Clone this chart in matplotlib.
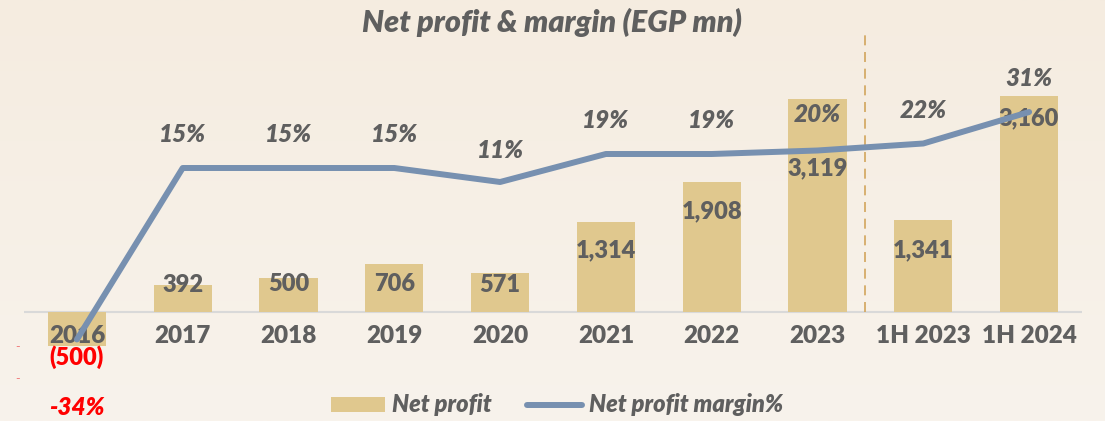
import numpy as np
import matplotlib.pyplot as plt
from matplotlib.patches import Patch
from matplotlib.lines import Line2D

plt.rcParams['font.family'] = ['Lato', 'DejaVu Sans']

# Data
categories = ["2016", "2017", "2018", "2019", "2020", "2021", "2022", "2023", "1H 2023", "1H 2024"]
net_profit = [-500, 392, 500, 706, 571, 1314, 1908, 3119, 1341, 3160]
margin = [-34, 15, 15, 15, 11, 19, 19, 20, 22, 31]

# label offsets in pixels (relative to bar end / line point)
bar_label_dy = [-11, 0, -6, -20, -12, -28, -30, -69, -30, -22]
margin_label_dy = [-68, 33, 33, 33, 32, 33, 33, 36, 33, 34]

TEXT = "#5F5F5F"
BAR = "#E0C88E"
LINE = "#7790B0"
BG = "#F5EDE1"
WT = 'heavy'

fig = plt.figure(figsize=(11.05, 4.21), dpi=100)
fig.patch.set_facecolor(BG)

# subtle vertical gradient background
bg = fig.add_axes([0, 0, 1, 1], zorder=-10)
grad = np.linspace(0, 1, 256).reshape(-1, 1)
c_top = np.array([245, 236, 224]) / 255
c_bot = np.array([248, 243, 236]) / 255
img = c_top + (c_bot - c_top) * grad[:, :, None]
bg.imshow(img, aspect='auto', extent=[0, 1, 0, 1])
bg.axis('off')

W, H = 1105, 421
ax = fig.add_axes([24 / W, (H - 370) / H, (1082 - 24) / W, (370 - 60) / H])
ax.patch.set_alpha(0)
x = np.arange(len(categories))

ax.bar(x, net_profit, width=0.55, color=BAR, zorder=2)
ax.set_xlim(-0.5, len(categories) - 0.5)
ax.set_ylim(-(370 - 312) / 0.0683, (312 - 60) / 0.0683)
ax.axhline(0, color="#D9D9D9", lw=1.5, zorder=1)
for s in ax.spines.values():
    s.set_visible(False)
ax.set_xticks([])
ax.set_yticks([])

ax2 = ax.twinx()
ax2.set_ylim(-(370 - 220.5) / 3.5, (220.5 - 60) / 3.5)
ax2.plot(x, margin, color=LINE, lw=4.3, solid_capstyle='round', zorder=3)
for s in ax2.spines.values():
    s.set_visible(False)
ax2.set_yticks([])

# category labels
for i, c in enumerate(categories):
    ax.annotate(c, (i, 0), xytext=(0, -24), textcoords='offset pixels',
                ha='center', va='center', fontsize=17.5, fontweight=WT, color=TEXT, zorder=5)

# bar value labels
for i, v in enumerate(net_profit):
    txt = f"({abs(v):,})" if v < 0 else f"{v:,}"
    col = "#FF0000" if v < 0 else TEXT
    ax.annotate(txt, (i, v), xytext=(0, bar_label_dy[i]), textcoords='offset pixels',
                ha='center', va='center', fontsize=17, fontweight=WT, color=col, zorder=6)

# margin labels
for i, m in enumerate(margin):
    col = "#FF0000" if m < 0 else TEXT
    ax2.annotate(f"{m}%", (i, m), xytext=(0, margin_label_dy[i]), textcoords='offset pixels',
                 ha='center', va='center', fontsize=17.5, fontweight=WT, style='italic',
                 color=col, zorder=6)

# divider between full years and half years
ax.axvline(7.45, ymin=(370 - 312) / 310, ymax=(370 - 30) / 310, color="#D2A55C",
           lw=1.2, ls=(0, (6, 4)), zorder=1, clip_on=False)

# stray axis marks on left
fig.text(18 / W, 1 - 347 / H, "-", color="#F08080", fontsize=9, ha='center', va='center')
fig.text(18 / W, 1 - 379 / H, "-", color="#F08080", fontsize=9, ha='center', va='center')

fig.text(552 / W, 1 - 22 / H, "Net profit & margin (EGP mn)", ha='center', va='center',
         fontsize=22, fontweight=WT, style='italic', color=TEXT)

handles = [Patch(facecolor=BAR, edgecolor='none'),
           Line2D([0], [0], color=LINE, lw=4.3, solid_capstyle='round')]
leg = fig.legend(handles, ["Net profit", "Net profit margin%"], loc='center',
                 bbox_to_anchor=(557 / W, 1 - 405 / H), ncol=2, frameon=False,
                 handlelength=2.3, handleheight=0.6, handletextpad=0.3, columnspacing=1.5,
                 prop={'size': 17, 'weight': WT, 'style': 'italic'})
for t in leg.get_texts():
    t.set_color(TEXT)

fig.savefig("out.png", dpi=100, facecolor=BG)
